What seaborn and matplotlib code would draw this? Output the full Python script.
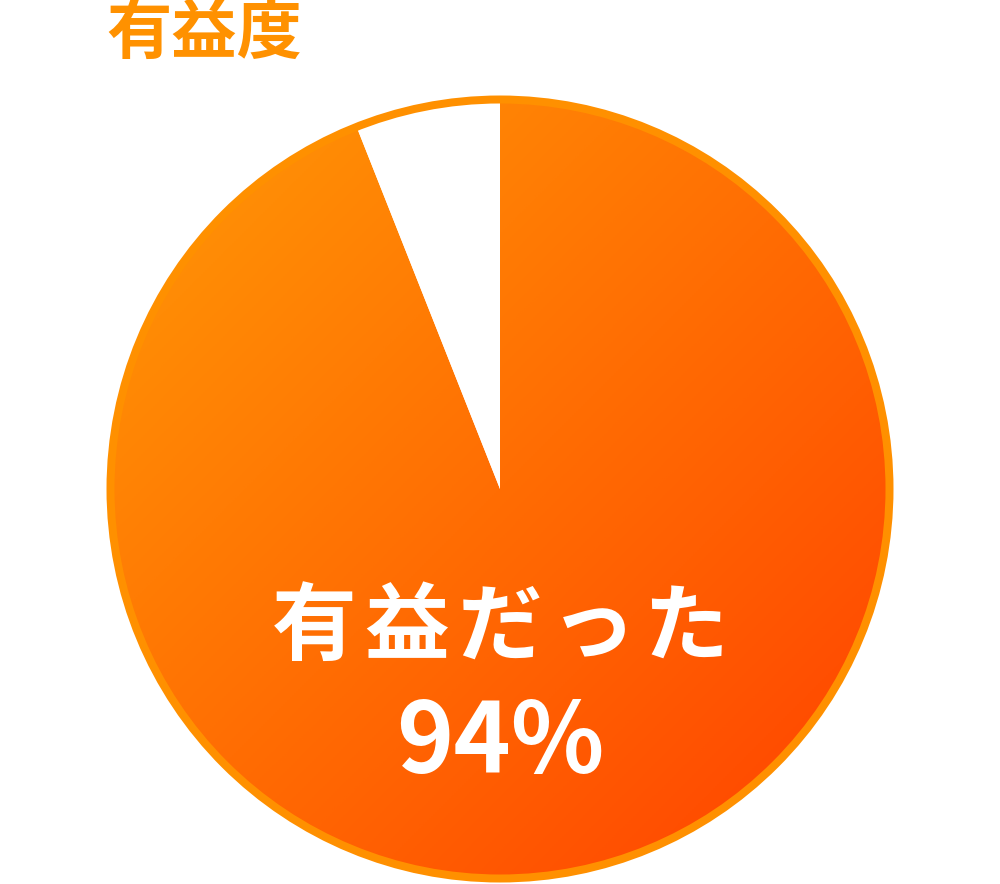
import numpy as np
import matplotlib.pyplot as plt
import seaborn as sns
from matplotlib.patches import Circle

# データ
labels = ["有益だった", "その他"]
values = [94, 6]
title = "有益度"
pct_text = "94%"

sns.set_theme(style="white")
plt.rcParams['font.family'] = ['Noto Sans CJK JP', 'DejaVu Sans']

W, H = 1000, 884
cx, cy = 500, H - 489
r_fill = 388
r_ring = 389.5

fig = plt.figure(figsize=(W / 100, H / 100), dpi=100)
ax = fig.add_axes([0, 0, 1, 1])

wedges, _ = ax.pie(values, colors=["none", "white"], startangle=90,
                   counterclock=False, center=(cx, cy), radius=r_fill,
                   wedgeprops=dict(linewidth=0))

# グラデーション（左上→右下）
cmap = sns.blend_palette(["#FF9A06", "#FF4000"], as_cmap=True)
gx, gy = np.meshgrid(np.linspace(0, 1, 400), np.linspace(0, 1, 400))
grad = (gx + (1 - gy)) / 2
im = ax.imshow(grad, extent=[cx - r_fill, cx + r_fill, cy - r_fill, cy + r_fill],
               origin='lower', cmap=cmap, zorder=1)
im.set_clip_path(wedges[0])
wedges[1].set_zorder(2)

# 外枠
ax.add_patch(Circle((cx, cy), r_ring, fill=False, edgecolor="#FF9000",
                    linewidth=8 * 72 / 100, zorder=3))

# 文字間隔をあけて1文字ずつ配置
pitch = 93
n = len(labels[0])
for i, ch in enumerate(labels[0]):
    ax.text(cx + (i - (n - 1) / 2) * pitch, H - 628, ch, ha='center', va='center',
            fontsize=61, fontweight='bold', color='white', zorder=4)
ax.text(cx, H - 745, pct_text, ha='center', va='center', fontsize=70,
        fontweight='bold', color='white', zorder=4)
ax.text(106, H - 1, title, ha='left', va='top', fontsize=47,
        fontweight='bold', color='#FF9100', zorder=4)

ax.set_xlim(0, W)
ax.set_ylim(0, H)
ax.set_aspect('auto')
ax.axis('off')

fig.savefig("out.png", dpi=100, facecolor='white')
